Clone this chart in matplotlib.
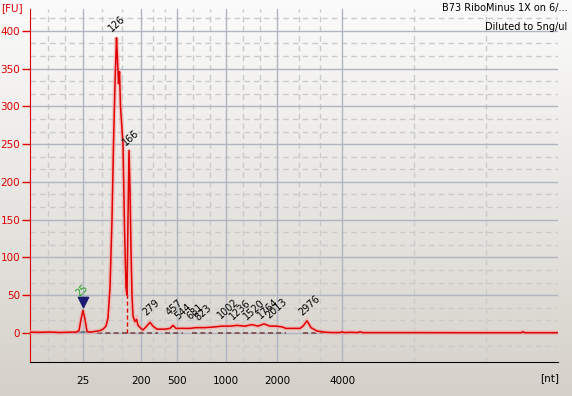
"""Bioanalyzer electropherogram: B73 RiboMinus 1X, diluted to 5ng/ul."""
import numpy as np
import matplotlib
matplotlib.use("Agg")
import matplotlib.pyplot as plt

# x is migration time (s); the nt ladder labels sit at fixed times
ladder_time = [22.3, 28.1, 31.7, 36.6, 41.7, 48.2]
ladder_nt = ["25", "200", "500", "1000", "2000", "4000"]

trace_time = [17.0, 18.0, 19.0, 20.0, 21.0, 21.6, 21.9, 22.1, 22.3, 22.5, 22.7,
              23.0, 23.5, 24.0, 24.3, 24.6, 24.8, 25.0, 25.2, 25.35, 25.5, 25.65,
              25.73, 25.85, 25.95, 26.05, 26.15, 26.3, 26.45, 26.6, 26.7, 26.8,
              26.9, 27.0, 27.1, 27.2, 27.3, 27.5, 27.65, 27.8, 28.1, 28.3, 28.6,
              29.0, 29.3, 29.7, 30.5, 31.0, 31.3, 31.6, 32.2, 33.0, 33.6, 34.5,
              35.5, 36.2, 37.0, 37.7, 38.5, 39.2, 39.8, 40.4, 41.0, 41.6, 42.2,
              42.6, 44.0, 44.3, 44.7, 45.1, 45.7, 46.5, 47.2, 48.0, 48.2, 48.4,
              49.0, 49.8, 50.0, 50.3, 55.0, 60.0, 66.1, 66.3, 66.5, 69.8]
trace_fu = [1.0, 0.8, 1.2, 0.6, 1.0, 1.0, 3, 18, 30, 18, 2,
            1.0, 2, 3, 5, 9, 20, 60, 150, 250, 330, 391,
            368, 330, 346, 300, 280, 250, 140, 60, 50, 150,
            242, 190, 110, 50, 22, 15, 18, 10, 6, 4, 8,
            14, 9, 5, 5, 6, 10, 6, 6, 6, 7, 7,
            8, 9, 9, 10, 9, 11, 9, 12, 9, 9, 8,
            6, 6, 9, 16, 7, 2.5, 1.0, 0.5, 0.5, 1.5, 0.5,
            0.8, 0.5, 1.5, 0.4, 0.4, 0.3, 0.3, 1.5, 0.3, 0.3]

peak_labels = ["126", "166", "279", "457", "544", "681", "823", "1002",
               "1236", "1520", "1764", "2013", "2976"]
peak_label_time = [25.35, 26.75, 28.75, 31.05, 31.95, 33.15, 33.95, 36.25,
                   37.45, 38.85, 40.25, 41.05, 44.35]
peak_label_fu = [397, 246, 21, 20, 15, 15, 14, 17, 15, 15, 17, 17, 20]

marker_time, marker_fu = 22.3, 41
marker_label = "25"

# integration baselines under the peaks
base_start = [23.7, 30.5, 33.2, 35.8, 44.3]
base_end = [29.8, 32.3, 35.2, 42.6, 46.3]

x_min, x_max = 17.0, 69.8
y_min, y_max = -38.5, 429

W, H = 572, 396
fig = plt.figure(figsize=(W / 100, H / 100), dpi=100)

# greyish gradient background, light at the top
bg = fig.add_axes([0, 0, 1, 1], zorder=-10)
grad = np.linspace(0, 1, 256)[:, None]
top = np.array([0.985, 0.985, 0.985])
bot = np.array([0.835, 0.820, 0.790])
img = top + (bot - top) * grad[..., None]
bg.imshow(img, aspect="auto", extent=[0, 1, 0, 1])
bg.axis("off")

ax = fig.add_axes([30 / W, 1 - 362 / H, 528 / W, 353 / H])
ax.set_facecolor("none")
ax.set_xlim(x_min, x_max)
ax.set_ylim(y_min, y_max)

# grid: solid at major ticks, dashed at thirds between them
x_edges = [x_min] + ladder_time + [x_max]
x_minor = []
for a, b in zip(x_edges[:-1], x_edges[1:]):
    x_minor += [a + (b - a) / 3, a + 2 * (b - a) / 3]
y_major = np.arange(0, 401, 50)
y_minor = [v + d for v in np.arange(-50, 401, 50) for d in (50 / 3, 100 / 3)]
y_minor = [v for v in y_minor if -20 < v < y_max]

for xv in x_minor:
    ax.axvline(xv, color="#cacaca", lw=1, ls=(0, (4, 3)), zorder=1)
for yv in y_minor:
    ax.axhline(yv, color="#cacaca", lw=1, ls=(0, (4, 3)), zorder=1)
for xv in ladder_time:
    ax.axvline(xv, color="#b0b5c2", lw=1, zorder=1.5)
for yv in y_major:
    ax.axhline(yv, color="#b0b5c2", lw=1, zorder=1.5)

# peak baselines
for a, b in zip(base_start, base_end):
    ax.plot([a, b], [0, 0], color="#7a4848", lw=1.2, ls=(0, (3, 2)), zorder=2)
ax.plot([21.7, 22.9], [0.6, 0.6], color="#4f6f70", lw=1.2, zorder=2)
ax.plot([26.7, 26.7], [0, 50], color="#e00000", lw=1, ls=(0, (3, 2)), zorder=3)

# trace with a soft halo
ax.plot(trace_time, trace_fu, color="#f5a8a8", lw=3.2, alpha=0.6,
        solid_joinstyle="miter", zorder=3)
ax.plot(trace_time, trace_fu, color="#e00000", lw=1.1, zorder=4)

ax.scatter([marker_time], [marker_fu], marker="v", s=55, color="#1a1a70",
           zorder=5)
ax.text(marker_time - 0.25, marker_fu + 4, marker_label, color="#1a9a1a",
        fontsize=7, rotation=42, rotation_mode="anchor",
        ha="left", va="bottom", zorder=6)
for lab, tx, fy in zip(peak_labels, peak_label_time, peak_label_fu):
    ax.text(tx, fy, lab, color="black", fontsize=7, rotation=42,
            rotation_mode="anchor", ha="left", va="bottom", zorder=6)

ax.set_yticks(y_major)
ax.set_yticklabels([str(v) for v in y_major])
ax.set_xticks(ladder_time)
ax.set_xticklabels(ladder_nt)
ax.tick_params(axis="y", colors="#dd0000", length=6, width=1, labelsize=7.5,
               pad=1, labelcolor="#dd0000")
ax.tick_params(axis="x", length=0, labelsize=7.5, pad=10)

for side in ("top", "right"):
    ax.spines[side].set_visible(False)
ax.spines["left"].set_color("#dd0000")
ax.spines["bottom"].set_color("black")

fig.text(1 / W, 1 - 8 / H, "[FU]", color="#dd0000", fontsize=7.5,
         ha="left", va="center")
fig.text(550 / W, 1 - 378 / H, "[nt]", color="black", fontsize=7.5,
         ha="center", va="center")
fig.text(567 / W, 1 - 8 / H, "B73 RiboMinus 1X on 6/...", color="black",
         fontsize=7, ha="right", va="center")
fig.text(567 / W, 1 - 27 / H, "Diluted to 5ng/ul", color="black",
         fontsize=7, ha="right", va="center")

fig.savefig("out.png", dpi=100)
plt.close(fig)
